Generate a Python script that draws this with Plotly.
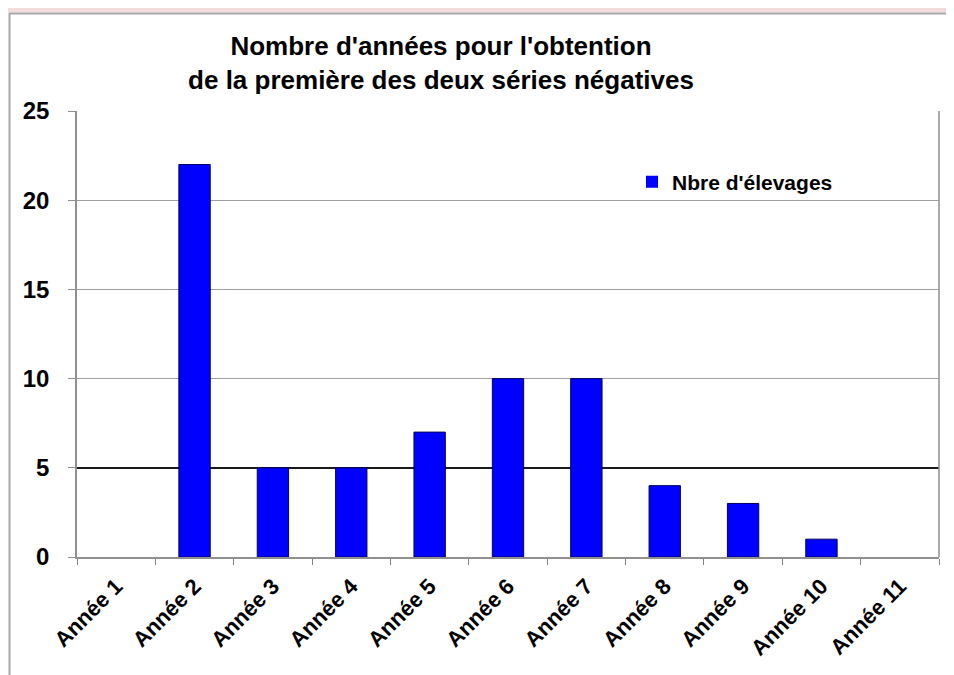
import plotly.graph_objects as go

categories = ["Année 1", "Année 2", "Année 3", "Année 4", "Année 5", "Année 6",
              "Année 7", "Année 8", "Année 9", "Année 10", "Année 11"]
values = [0, 22, 5, 5, 7, 10, 10, 4, 3, 1, 0]
series_name = "Nbre d'élevages"
y_ticks = [0, 5, 10, 15, 20, 25]
dark_grid = [5]

FONT = "Arial, Liberation Sans, sans-serif"

# page body has an 8px margin; compensate so the plot lands where the reference has it
OFF = 8
W, H = 954 - OFF, 675 - OFF
L_SCR, R_SCR, T_SCR, B_SCR = 77, 939, 111, 557
L = L_SCR - OFF
T = T_SCR - OFF
R = W - (R_SCR - OFF)
B = H - (B_SCR - OFF)
pw, ph = W - L - R, H - T - B
def px(x): return (x - L_SCR) / pw          # screen x -> paper
def py(y): return (B_SCR - y) / ph          # screen y -> paper

fig = go.Figure()
fig.add_trace(go.Bar(
    x=categories, y=values, name="<b>" + series_name + "</b>",
    marker=dict(color="#0000FF",
                line=dict(color="#000060", width=[1 if v > 0 else 0 for v in values])),
    showlegend=True,
))
# invisible helper trace so the overlay axis (dark gridline at 5) is drawn
fig.add_trace(go.Scatter(x=[categories[0]], y=[None], yaxis="y2", showlegend=False,
                         hoverinfo="skip", mode="markers"))

shapes = [
    dict(type="rect", xref="paper", yref="paper", x0=px(-20), x1=px(970), y0=py(12.5), y1=py(-20),
         fillcolor="#F2DCDB", line=dict(width=0), layer="below"),
    dict(type="line", xref="paper", yref="paper", x0=px(9), x1=px(970), y0=py(13.5), y1=py(13.5),
         line=dict(color="#A8A8A8", width=2)),
    dict(type="line", xref="paper", yref="paper", x0=px(9.5), x1=px(9.5), y0=py(13), y1=py(700),
         line=dict(color="#A8A8A8", width=2)),
    dict(type="line", xref="paper", yref="paper", x0=1, x1=1, y0=0, y1=1,
         line=dict(color="#909090", width=1.5)),
]

fig.update_layout(
    width=W, height=H,
    margin=dict(l=L, r=R, t=T, b=B, autoexpand=False),
    paper_bgcolor="white", plot_bgcolor="white",
    bargap=0.6,
    font=dict(family=FONT, color="black"),
    title=dict(
        text="<b>Nombre d'années pour l'obtention<br>de la première des deux séries négatives</b>",
        xref="container", yref="container",
        x=(441 - OFF) / W, xanchor="center", y=1 - (55 - OFF) / H, yanchor="middle",
        font=dict(size=26, family=FONT, color="black"),
    ),
    xaxis=dict(
        categoryorder="array", categoryarray=categories,
        range=[-0.5, len(categories) - 0.5],
        tickvals=categories, ticktext=["<b>" + c + "</b>" for c in categories],
        tickangle=-45, tickfont=dict(size=22, family=FONT, color="black"),
        ticks="outside", tickson="boundaries", ticklen=6, tickcolor="#808080",
        ticklabelstandoff=6,
        showline=True, linecolor="#909090", linewidth=1.5,
        showgrid=False,
    ),
    yaxis=dict(
        range=[0, 25], tickvals=y_ticks, ticktext=["<b>%d</b>" % t for t in y_ticks],
        tickfont=dict(size=24, family=FONT, color="black"),
        ticks="outside", ticklen=7, tickcolor="#909090",
        ticklabelstandoff=14,
        showline=True, linecolor="#909090", linewidth=1.5,
        showgrid=True, gridcolor="#A0A0A0", gridwidth=1.2,
        zeroline=False,
    ),
    yaxis2=dict(
        overlaying="y", side="left", range=[0, 25], tickvals=dark_grid,
        showticklabels=False, ticks="", showline=False, zeroline=False,
        showgrid=True, gridcolor="#1A1A1A", gridwidth=1.6,
    ),
    legend=dict(
        x=px(632), y=py(182), xanchor="left", yanchor="middle",
        bgcolor="rgba(0,0,0,0)",
        font=dict(size=21, family=FONT, color="black"),
        itemwidth=30,
    ),
    shapes=shapes,
)

fig.write_html("out.html")
